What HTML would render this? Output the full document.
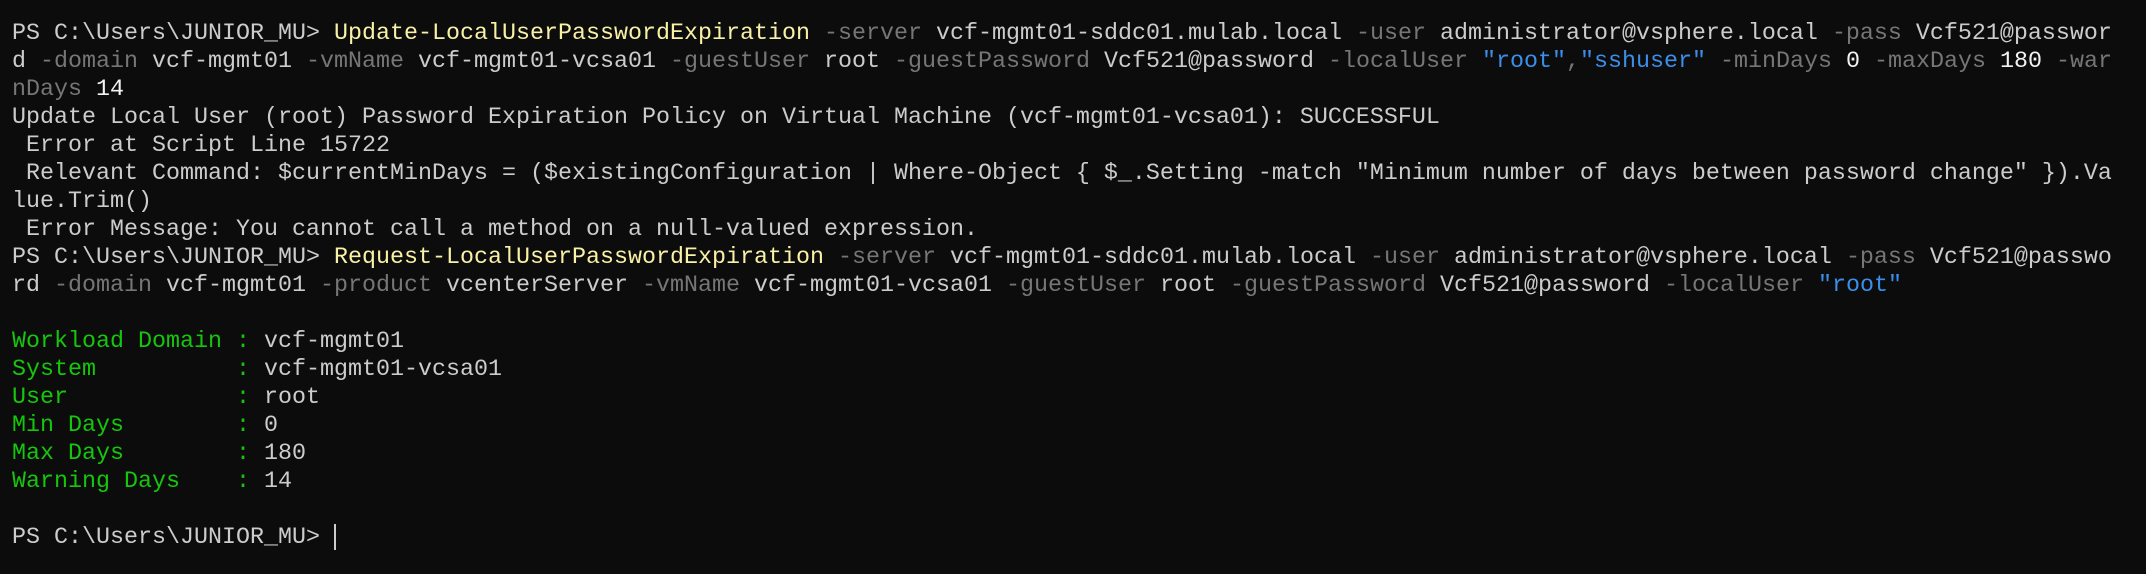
<!DOCTYPE html>
<html><head><meta charset="utf-8"><style>
html,body{margin:0;padding:0;background:#0c0c0c;width:2146px;height:574px;overflow:hidden}
pre{margin:0;position:absolute;left:12px;top:20px;font-family:"Liberation Mono",monospace;font-size:23.33px;line-height:28px;color:#cccccc;white-space:pre}
.y{color:#f9f1a5}.g{color:#767676}.b{color:#3b8eea}.w{color:#f2f2f2}.gr{color:#16c60c}
.cur{display:inline-block;width:2px;height:26px;background:#cccccc;vertical-align:middle}
</style></head><body><pre>PS C:\Users\JUNIOR_MU&gt; <span class="y">Update-LocalUserPasswordExpiration</span> <span class="g">-server</span> vcf-mgmt01-sddc01.mulab.local <span class="g">-user</span> administrator@vsphere.local <span class="g">-pass</span> Vcf521@passwor
d <span class="g">-domain</span> vcf-mgmt01 <span class="g">-vmName</span> vcf-mgmt01-vcsa01 <span class="g">-guestUser</span> root <span class="g">-guestPassword</span> Vcf521@password <span class="g">-localUser</span> <span class="b">"root"</span><span class="g">,</span><span class="b">"sshuser"</span> <span class="g">-minDays</span> <span class="w">0</span> <span class="g">-maxDays</span> <span class="w">180</span> <span class="g">-war</span>
<span class="g">nDays</span> <span class="w">14</span>
Update Local User (root) Password Expiration Policy on Virtual Machine (vcf-mgmt01-vcsa01): SUCCESSFUL
 Error at Script Line 15722
 Relevant Command: $currentMinDays = ($existingConfiguration | Where-Object { $_.Setting -match "Minimum number of days between password change" }).Va
lue.Trim()
 Error Message: You cannot call a method on a null-valued expression.
PS C:\Users\JUNIOR_MU&gt; <span class="y">Request-LocalUserPasswordExpiration</span> <span class="g">-server</span> vcf-mgmt01-sddc01.mulab.local <span class="g">-user</span> administrator@vsphere.local <span class="g">-pass</span> Vcf521@passwo
rd <span class="g">-domain</span> vcf-mgmt01 <span class="g">-product</span> vcenterServer <span class="g">-vmName</span> vcf-mgmt01-vcsa01 <span class="g">-guestUser</span> root <span class="g">-guestPassword</span> Vcf521@password <span class="g">-localUser</span> <span class="b">"root"</span>

<span class="gr">Workload Domain :</span> vcf-mgmt01
<span class="gr">System          :</span> vcf-mgmt01-vcsa01
<span class="gr">User            :</span> root
<span class="gr">Min Days        :</span> 0
<span class="gr">Max Days        :</span> 180
<span class="gr">Warning Days    :</span> 14

PS C:\Users\JUNIOR_MU&gt; <span class="cur"></span></pre></body></html>
